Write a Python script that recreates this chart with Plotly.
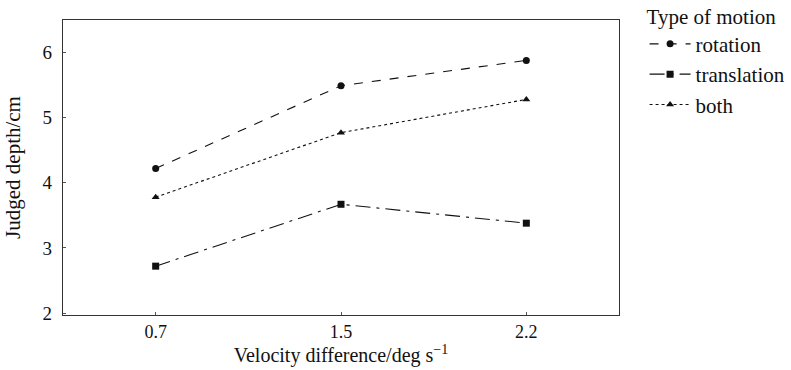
import plotly.graph_objects as go

velocity = ["0.7", "1.5", "2.2"]
rotation = [4.22, 5.49, 5.88]
translation = [2.72, 3.67, 3.38]
both = [3.78, 4.77, 5.28]

series = [
    ("rotation", rotation, "dash", "circle"),
    ("translation", translation, "longdashdot", "square"),
    ("both", both, "dot", "triangle-up"),
]

serif = "Liberation Serif"

fig = go.Figure()
for name, vals, dash, sym in series:
    fig.add_trace(go.Scatter(
        x=velocity, y=vals, mode="lines+markers", name=name,
        line=dict(color="#111", width=1.1, dash=dash),
        marker=dict(symbol=sym, size=7, color="#111"),
    ))

fig.update_layout(
    width=791, height=370,
    margin=dict(l=63, r=172, t=20, b=55, autoexpand=False),
    paper_bgcolor="white", plot_bgcolor="white",
    font=dict(family=serif, size=18, color="#111"),
    showlegend=True,
    legend=dict(
        title=dict(text="Type of motion", font=dict(family=serif, size=21)),
        x=1.046, y=1.08, xanchor="left", yanchor="top",
        font=dict(family=serif, size=21, color="#111"),
        itemwidth=41, tracegroupgap=0,
        bgcolor="rgba(0,0,0,0)",
    ),
    xaxis=dict(
        type="category", range=[-0.5, 2.5], automargin=False,
        showline=True, linecolor="#333", linewidth=1.2, mirror=True,
        showgrid=False, zeroline=False,
        ticks="inside", ticklen=3, tickcolor="#555",
        tickfont=dict(family=serif, size=18),
        title=dict(text="Velocity difference/deg s<sup>−1</sup>", standoff=0,
                   font=dict(family=serif, size=20)),
    ),
    yaxis=dict(
        range=[1.97, 6.5], dtick=1, automargin=False,
        showline=True, linecolor="#333", linewidth=1.2, mirror=True,
        showgrid=False, zeroline=False,
        ticks="inside", ticklen=3, tickcolor="#555",
        ticklabelstandoff=6,
        tickfont=dict(family=serif, size=19),
        title=dict(text="Judged depth/cm", standoff=16,
                   font=dict(family=serif, size=21)),
    ),
)

fig.write_html("out.html")
